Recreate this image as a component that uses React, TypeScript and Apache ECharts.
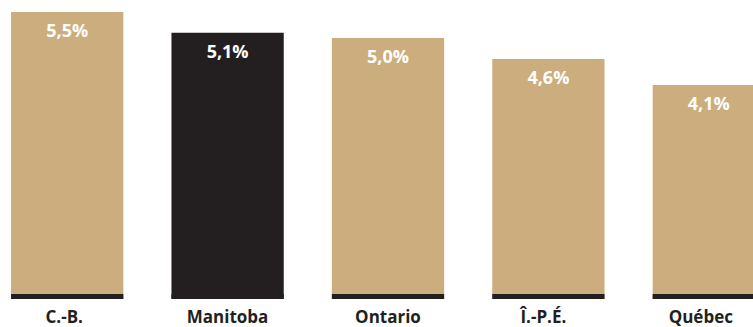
import React, { useEffect, useRef } from "react";
import * as echarts from "echarts";

const categories = ["C.-B.", "Manitoba", "Ontario", "Î.-P.É.", "Québec"];
const values = [5.5, 5.1, 5.0, 4.6, 4.1];
const highlight = "Manitoba";
const valueLabels = ["5,5%", "5,1%", "5,0%", "4,6%", "4,1%"];

const TAN = "#CCAD7D";
const DARK = "#231F20";

// small leftward nudges of the category labels, as in the reference
const labelShift: Record<string, number> = { "C.-B.": 6, "Î.-P.É.": 10, "Québec": 16 };

export default function App() {
  const ref = useRef<HTMLDivElement>(null);
  useEffect(() => {
    const chart = echarts.init(ref.current!, null, { renderer: "svg" });
    const barRatio = 0.7;
    chart.setOption({
      animation: false,
      grid: { left: 0, right: 0, top: 12, bottom: 28, containLabel: false },
      xAxis: {
        type: "category",
        data: categories.map((c) => ({
          value: c,
          textStyle: { padding: [0, labelShift[c] || 0, 0, 0] },
        })),
        axisLine: { show: false },
        axisTick: { show: false },
        axisLabel: {
          color: DARK,
          fontFamily: "Open Sans",
          fontWeight: 700,
          fontSize: 17,
          lineHeight: 17,
          margin: 9,
        },
      },
      yAxis: {
        type: "value",
        min: 0,
        max: 5.5,
        show: false,
        splitLine: { show: false },
      },
      series: [
        {
          type: "bar",
          barWidth: "70%",
          data: values.map((v, i) => ({
            value: v,
            itemStyle: { color: categories[i] === highlight ? DARK : TAN },
          })),
          label: {
            show: true,
            position: "insideTop",
            distance: 9,
            color: "#ffffff",
            fontFamily: "Open Sans",
            fontWeight: 700,
            fontSize: 18,
            formatter: (p: any) => valueLabels[p.dataIndex],
          },
        },
        {
          type: "custom",
          silent: true,
          z: 5,
          data: values.map((v, i) => [i, 0]),
          renderItem: (params: any, api: any) => {
            const pt = api.coord([api.value(0), 0]);
            const band = api.size([1, 0])[0];
            const w = band * barRatio;
            return {
              type: "rect",
              shape: { x: pt[0] - w / 2, y: pt[1] - 5, width: w, height: 5 },
              style: { fill: DARK },
            };
          },
        },
      ],
    });
    return () => chart.dispose();
  }, []);
  return (
    <div style={{ position: "absolute", left: 0, top: 0, width: 753, height: 327, overflow: "hidden" }}>
      <div
        ref={ref}
        style={{ position: "absolute", left: -13, top: 0, width: 802, height: 327 }}
      />
    </div>
  );
}
